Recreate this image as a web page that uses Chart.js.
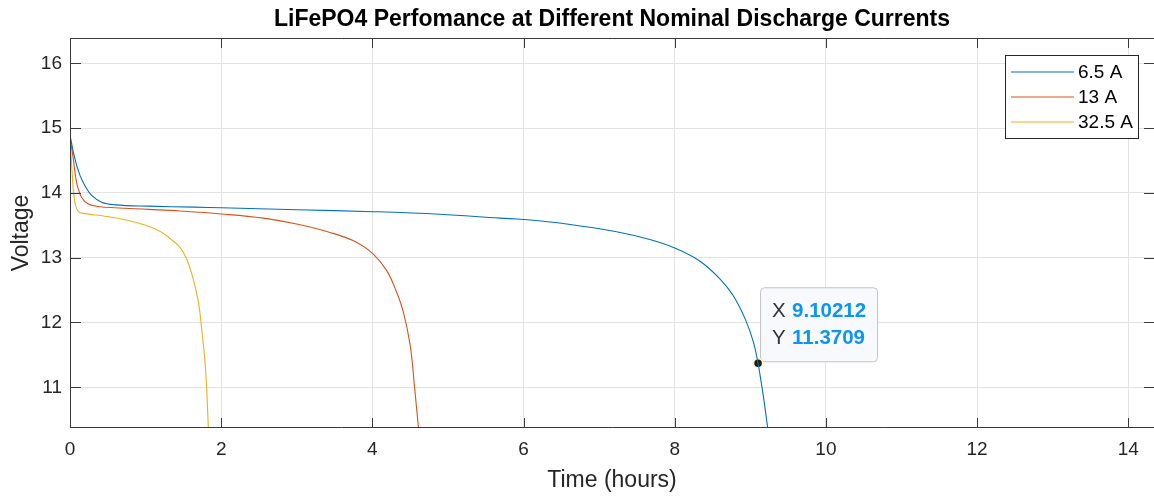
<!DOCTYPE html>
<html>
<head>
<meta charset="utf-8">
<script src="https://cdn.jsdelivr.net/npm/chart.js@4"></script>
<style>
  html, body { margin: 0; padding: 0; background: #fff; }
  #wrap { width: 1154px; height: 496px; }
</style>
</head>
<body>
<div id="wrap"><canvas id="dischargeChart"></canvas></div>
<script>
// Discharge curves (time in hours, voltage in V)
const time65 = [0, 0.066, 0.132, 0.198, 0.287, 0.419, 0.595, 1.04, 1.65, 2.0, 3.0, 4.01, 4.89, 5.69, 6.0, 6.57, 7.23, 7.67, 8.0, 8.33, 8.6, 8.77, 8.93, 9.04, 9.102, 9.17, 9.23];
const volt65 = [14.89, 14.52, 14.27, 14.11, 13.96, 13.855, 13.815, 13.795, 13.78, 13.77, 13.74, 13.71, 13.67, 13.61, 13.59, 13.52, 13.40, 13.28, 13.15, 12.95, 12.67, 12.42, 12.06, 11.70, 11.37, 10.88, 10.37];

const time13 = [0, 0.044, 0.088, 0.154, 0.243, 0.375, 0.595, 1.04, 1.455, 2.0, 2.557, 2.998, 3.44, 3.79, 4.01, 4.19, 4.32, 4.41, 4.50, 4.56, 4.61];
const volt13 = [14.86, 14.52, 14.16, 13.93, 13.83, 13.79, 13.77, 13.745, 13.72, 13.675, 13.61, 13.52, 13.39, 13.24, 13.06, 12.80, 12.47, 12.16, 11.65, 10.98, 10.37];

const time325 = [0, 0.031, 0.057, 0.11, 0.2, 0.46, 0.73, 1.0, 1.2, 1.32, 1.455, 1.543, 1.63, 1.70, 1.742, 1.786, 1.808, 1.83];
const volt325 = [14.86, 14.27, 13.91, 13.71, 13.68, 13.64, 13.585, 13.50, 13.40, 13.30, 13.16, 12.98, 12.67, 12.31, 11.90, 11.39, 10.98, 10.37];

const seriesLabels = ['6.5 A', '13 A', '32.5 A'];
const seriesColors = ['#0072BD', '#D95319', '#EDB120'];

const xTicks = [0, 2, 4, 6, 8, 10, 12, 14];
const yTicks = [11, 12, 13, 14, 15, 16];

// data tip
const tipX = 9.10212;
const tipY = 11.3709;

const textColor = '#262626';
const fontFamily = "'Liberation Sans', Arial, Helvetica, sans-serif";
Chart.defaults.font.family = fontFamily;

const toPoints = (xs, ys) => xs.map((x, i) => ({x: x, y: ys[i]}));

const lineSet = (label, xs, ys, color) => ({
  label: label,
  data: toPoints(xs, ys),
  borderColor: color,
  backgroundColor: color,
  borderWidth: 1.1,
  pointRadius: 0,
  fill: false,
  tension: 0.4
});

// Frame, inward ticks, legend, data tip and title drawn MATLAB style
const matlabFrame = {
  id: 'matlabFrame',
  beforeDatasetsDraw(chart) {
    const {ctx, scales: {x, y}} = chart;
    const px = x.getPixelForValue(tipX);
    const py = y.getPixelForValue(tipY);
    const bx = px + 2, by = py - 76, bw = 117, bh = 74;
    ctx.save();
    ctx.beginPath();
    ctx.roundRect(bx + 0.5, by + 0.5, bw, bh, 4);
    ctx.fillStyle = '#f8f9fd';
    ctx.fill();
    ctx.strokeStyle = '#c4c4c4';
    ctx.lineWidth = 1;
    ctx.stroke();
    ctx.textBaseline = 'middle';
    ctx.textAlign = 'left';
    ctx.font = '20.5px ' + fontFamily;
    ctx.fillStyle = '#333333';
    ctx.fillText('X', px + 14, py - 52);
    ctx.fillText('Y', px + 14, py - 25);
    ctx.font = 'bold 20.5px ' + fontFamily;
    ctx.fillStyle = '#0a96f2';
    ctx.fillText(String(tipX), px + 34, py - 52);
    ctx.fillText(String(tipY), px + 34, py - 25);
    ctx.restore();
  },
  afterDatasetsDraw(chart) {
    const {ctx, chartArea: a, scales: {x, y}} = chart;
    ctx.save();
    ctx.strokeStyle = '#3a3a3a';
    ctx.lineWidth = 1;
    // box (right edge falls on the canvas border)
    ctx.beginPath();
    ctx.moveTo(a.right, a.top + 0.5);
    ctx.lineTo(a.left + 0.5, a.top + 0.5);
    ctx.lineTo(a.left + 0.5, a.bottom - 0.5);
    ctx.lineTo(a.right, a.bottom - 0.5);
    ctx.stroke();
    // inward ticks
    ctx.beginPath();
    xTicks.forEach(v => {
      const p = Math.round(x.getPixelForValue(v)) + 0.5;
      ctx.moveTo(p, a.bottom);
      ctx.lineTo(p, a.bottom - 10);
      ctx.moveTo(p, a.top);
      ctx.lineTo(p, a.top + 10);
    });
    yTicks.forEach(v => {
      const p = Math.round(y.getPixelForValue(v)) + 0.5;
      ctx.moveTo(a.left, p);
      ctx.lineTo(a.left + 11, p);
      ctx.moveTo(a.right, p);
      ctx.lineTo(a.right - 10, p);
    });
    ctx.stroke();

    // legend
    const lx = 1005, ly = 55, lw = 133, lh = 83;
    ctx.fillStyle = '#ffffff';
    ctx.fillRect(lx, ly, lw, lh);
    ctx.strokeStyle = '#262626';
    ctx.strokeRect(lx + 0.5, ly + 0.5, lw, lh);
    ctx.font = '19px ' + fontFamily;
    ctx.textBaseline = 'middle';
    ctx.textAlign = 'left';
    seriesLabels.forEach((lab, i) => {
      const rowY = ly + 17 + i * 25;
      ctx.strokeStyle = seriesColors[i];
      ctx.lineWidth = 1.1;
      ctx.beginPath();
      ctx.moveTo(lx + 6, rowY);
      ctx.lineTo(lx + 69, rowY);
      ctx.stroke();
      ctx.fillStyle = '#000000';
      ctx.fillText(lab, lx + 73, rowY + 1);
    });

    // title
    ctx.font = 'bold 23px ' + fontFamily;
    ctx.textAlign = 'center';
    ctx.fillStyle = '#000000';
    ctx.fillText('LiFePO4 Perfomance at Different Nominal Discharge Currents', (a.left + a.right) / 2, 20);
    ctx.restore();
  }
};

const ctx1 = document.getElementById('dischargeChart').getContext('2d');

const dischargeChart = new Chart(ctx1, {
  type: 'line',
  data: {
    datasets: [
      lineSet(seriesLabels[0], time65, volt65, seriesColors[0]),
      lineSet(seriesLabels[1], time13, volt13, seriesColors[1]),
      lineSet(seriesLabels[2], time325, volt325, seriesColors[2]),
      {
        label: 'datatip',
        data: [{x: tipX, y: tipY}],
        showLine: false,
        pointRadius: 4.5,
        pointBackgroundColor: '#1a1a1a',
        pointBorderColor: '#fff8c0',
        pointBorderWidth: 1.5
      }
    ]
  },
  options: {
    responsive: true,
    maintainAspectRatio: false,
    animation: false,
    layout: {autoPadding: false, padding: {top: 38, left: 0, right: 0, bottom: 0}},
    plugins: {
      legend: {display: false},
      tooltip: {enabled: false},
      title: {display: false}
    },
    scales: {
      x: {
        type: 'linear',
        min: 0,
        max: 14.34,
        afterBuildTicks: s => { s.ticks = xTicks.map(v => ({value: v})); },
        afterFit: s => { s.height = 68; s.paddingLeft = 0; s.paddingRight = 0; },
        grid: {color: '#e3e3e3', drawTicks: false},
        border: {display: false},
        ticks: {color: textColor, font: {size: 19}, padding: 10, maxRotation: 0, autoSkip: false},
        title: {display: true, text: 'Time (hours)', color: textColor, font: {size: 23}, padding: {top: 0, bottom: 2}}
      },
      y: {
        type: 'linear',
        min: 10.372,
        max: 16.39,
        afterBuildTicks: s => { s.ticks = yTicks.map(v => ({value: v})); },
        afterFit: s => { s.width = 70; s.paddingTop = 0; s.paddingBottom = 0; },
        grid: {color: '#e3e3e3', drawTicks: false},
        border: {display: false},
        ticks: {color: textColor, font: {size: 19}, padding: 8, autoSkip: false},
        title: {display: true, text: 'Voltage', color: textColor, font: {size: 23}, padding: {top: 8, bottom: 0}}
      }
    }
  },
  plugins: [matlabFrame]
});
</script>
</body>
</html>
